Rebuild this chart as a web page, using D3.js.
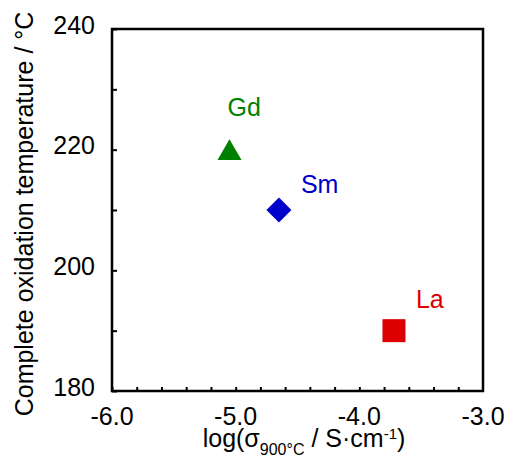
<!DOCTYPE html>
<html>
<head>
<meta charset="utf-8">
<script src="https://cdn.jsdelivr.net/npm/d3@7"></script>
<style>
  body { margin: 0; background: #fff; }
  svg { font-family: "Liberation Sans", Arial, sans-serif; }
</style>
</head>
<body>
<script>
// dimensions
const width = 507;
const height = 459;
const margin = { top: 29, right: 24, bottom: 68, left: 112 };
const fontSize = 25;

// données
const elements = ['Gd', 'Sm', 'La'];
const logSigma = [-5.05, -4.65, -3.72];
const oxTemp = [220, 210, 190];
const colors = ['#008000', '#0000cc', '#dd0000'];
const shapes = ['triangle', 'diamond', 'square'];

const xTicks = [-6, -5, -4, -3];
const yTicks = [180, 200, 220, 240];

const svg = d3.select('body')
  .append('svg')
  .attr('width', width)
  .attr('height', height);

// échelles
const x = d3.scaleLinear()
  .domain([-6, -3])
  .range([margin.left, width - margin.right]);

const y = d3.scaleLinear()
  .domain([180, 240])
  .range([height - margin.bottom, margin.top]);

// ticks mineurs
const xMinor = d3.range(-6, -3.0001, 0.2);
const yMinor = d3.range(180, 240.001, 10);

svg.append('g')
  .attr('transform', `translate(0, ${y(180)})`)
  .call(d3.axisBottom(x).tickValues(xMinor).tickSize(-4).tickFormat(''))
  .call(g => g.select('.domain').remove())
  .call(g => g.selectAll('line').attr('stroke-width', 2));

svg.append('g')
  .attr('transform', `translate(${x(-6)}, 0)`)
  .call(d3.axisLeft(y).tickValues(yMinor).tickSize(-5).tickFormat(''))
  .call(g => g.select('.domain').remove())
  .call(g => g.selectAll('line').attr('stroke-width', 2));

// étiquettes des axes
svg.append('g')
  .selectAll('text')
  .data(xTicks)
  .join('text')
    .attr('x', d => x(d))
    .attr('y', 425)
    .attr('text-anchor', 'middle')
    .attr('font-size', fontSize)
    .text(d => d.toFixed(1));

svg.append('g')
  .selectAll('text')
  .data(yTicks)
  .join('text')
    .attr('x', 95)
    .attr('y', d => y(d) - 4)
    .attr('dy', '0.35em')
    .attr('text-anchor', 'end')
    .attr('font-size', fontSize)
    .text(d => d);

// cadre
svg.append('rect')
  .attr('x', x(-6))
  .attr('y', y(240))
  .attr('width', x(-3) - x(-6))
  .attr('height', y(180) - y(240))
  .attr('fill', 'none')
  .attr('stroke', '#000')
  .attr('stroke-width', 2.5);

// points
const symbolType = {
  triangle: d3.symbolTriangle,
  diamond: d3.symbolSquare,
  square: d3.symbolSquare
};
const symbolSize = { triangle: 250, diamond: 312, square: 529 };

svg.append('g')
  .selectAll('path')
  .data(elements)
  .join('path')
    .attr('d', (d, i) => d3.symbol(symbolType[shapes[i]], symbolSize[shapes[i]])())
    .attr('transform', (d, i) => {
      const rot = shapes[i] === 'diamond' ? ' rotate(45)' : '';
      const dy = shapes[i] === 'triangle' ? 3.5 : 0;
      return `translate(${x(logSigma[i])}, ${y(oxTemp[i]) + dy})${rot}`;
    })
    .attr('fill', (d, i) => colors[i]);

// noms des éléments
const labelOffset = [[-2, -34], [22, -17], [22, -23]];
svg.append('g')
  .selectAll('text')
  .data(elements)
  .join('text')
    .attr('x', (d, i) => x(logSigma[i]) + labelOffset[i][0])
    .attr('y', (d, i) => y(oxTemp[i]) + labelOffset[i][1])
    .attr('font-size', fontSize)
    .attr('fill', (d, i) => colors[i])
    .text(d => d);

// titres des axes
const xTitle = svg.append('text')
  .attr('x', 304)
  .attr('y', 447)
  .attr('text-anchor', 'middle')
  .attr('font-size', fontSize);
xTitle.append('tspan').text('log(σ');
xTitle.append('tspan').attr('font-size', 16).attr('dy', 8).text('900°C');
xTitle.append('tspan').attr('dy', -8).text(' / S·cm');
xTitle.append('tspan').attr('font-size', 15).attr('dy', -8).text('-1');
xTitle.append('tspan').attr('dy', 8).text(')');

svg.append('text')
  .attr('transform', `translate(33, ${(y(180) + y(240)) / 2 + 4}) rotate(-90)`)
  .attr('text-anchor', 'middle')
  .attr('font-size', fontSize)
  .text('Complete oxidation temperature / °C');
</script>
</body>
</html>
